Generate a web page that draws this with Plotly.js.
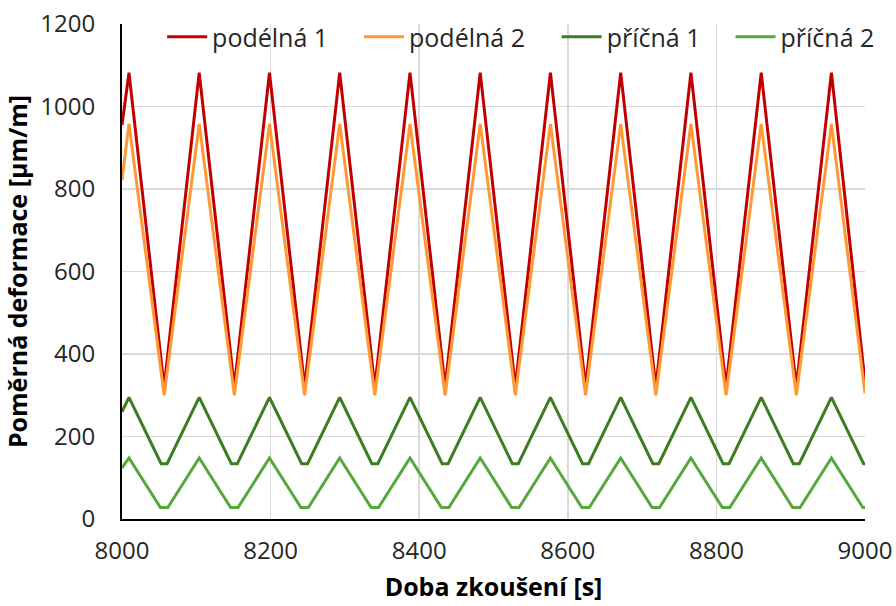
<!DOCTYPE html>
<html>
<head>
<meta charset="utf-8">
<script src="https://cdn.plot.ly/plotly-3.0.1.min.js"></script>
<style>html,body{margin:0;padding:0;background:#fff;}#chart{width:896px;height:606px;}</style>
</head>
<body>
<div id="chart"></div>
<script>
// Time axis points [s]
const tPod = [8000, 8009.4, 8056.7, 8103.9, 8151.2, 8198.5, 8245.8, 8293.0, 8340.3, 8387.6, 8434.9,
              8482.1, 8529.4, 8576.6, 8623.9, 8671.2, 8718.5, 8765.7, 8813.0, 8860.3, 8907.6, 8954.8, 9000];
// podélná 1 [µm/m]
const podelna1 = [955, 1082, 320, 1082, 320, 1082, 320, 1082, 320, 1082, 320,
                  1082, 320, 1082, 320, 1082, 320, 1082, 320, 1082, 320, 1082, 332];
// podélná 2 [µm/m]
const podelna2 = [822, 958, 300, 958, 300, 958, 300, 958, 300, 958, 300,
                  958, 300, 958, 300, 958, 300, 958, 300, 958, 300, 958, 305];

const tPr1 = [8000, 8009.4, 8052.7, 8060.7, 8103.9, 8147.2, 8155.2, 8198.5, 8241.8, 8249.8, 8293.0,
              8336.3, 8344.3, 8387.6, 8430.9, 8438.9, 8482.1, 8525.4, 8533.4, 8576.6, 8619.9, 8627.9,
              8671.2, 8714.5, 8722.5, 8765.7, 8809.0, 8817.0, 8860.3, 8903.6, 8911.6, 8954.8, 8998.1, 9000];
// příčná 1 [µm/m]
const pricna1 = [260, 295, 134, 134, 295, 134, 134, 295, 134, 134, 295,
                 134, 134, 295, 134, 134, 295, 134, 134, 295, 134, 134,
                 295, 134, 134, 295, 134, 134, 295, 134, 134, 295, 134, 134];

const tPr2 = [8000, 8009.4, 8051.7, 8061.7, 8103.9, 8146.2, 8156.2, 8198.5, 8240.8, 8250.8, 8293.0,
              8335.3, 8345.3, 8387.6, 8429.9, 8439.9, 8482.1, 8524.4, 8534.4, 8576.6, 8618.9, 8628.9,
              8671.2, 8713.5, 8723.5, 8765.7, 8808.0, 8818.0, 8860.3, 8902.6, 8912.6, 8954.8, 8997.1, 9000];
// příčná 2 [µm/m]
const pricna2 = [124, 148, 28, 28, 148, 28, 28, 148, 28, 28, 148,
                 28, 28, 148, 28, 28, 148, 28, 28, 148, 28, 28,
                 148, 28, 28, 148, 28, 28, 148, 28, 28, 148, 28, 28];

const seriesNames = ['podélná 1', 'podélná 2', 'příčná 1', 'příčná 2'];
const colors = ['#C00000', '#FF9933', '#3C7D22', '#56A83A'];
const legendIds = ['legend', 'legend2', 'legend3', 'legend4'];
const legendX = [0.054, 0.319, 0.585, 0.819];

const traces = [
  {x: tPod, y: podelna1},
  {x: tPod, y: podelna2},
  {x: tPr1, y: pricna1},
  {x: tPr2, y: pricna2}
].map((d, i) => ({
  x: d.x, y: d.y, type: 'scatter', mode: 'lines', name: seriesNames[i],
  legend: legendIds[i],
  line: {color: colors[i], width: 3}
}));

const FONT = 'Open Sans, sans-serif';
const layout = {
  width: 896, height: 606,
  margin: {l: 122, r: 31, t: 24, b: 87},
  paper_bgcolor: '#ffffff', plot_bgcolor: '#ffffff',
  font: {family: FONT, size: 25, color: '#404040'},
  showlegend: true,
  xaxis: {
    range: [8000, 9000], dtick: 200, tick0: 8000,
    showgrid: true, gridcolor: '#D9D9D9', gridwidth: 1.5,
    showline: true, linecolor: '#000000', linewidth: 2,
    ticks: '', ticklabelstandoff: 9, zeroline: false,
    tickfont: {size: 24, color: '#262626'},
    title: {text: 'Doba zkoušení [s]', font: {size: 25, color: '#000000', family: FONT, weight: 'bold'}, standoff: 14}
  },
  yaxis: {
    range: [0, 1200], dtick: 200,
    showgrid: true, gridcolor: '#D9D9D9', gridwidth: 1.5,
    showline: true, linecolor: '#000000', linewidth: 2,
    ticks: '', ticklabelstandoff: 20, zeroline: false,
    tickfont: {size: 24, color: '#262626'},
    title: {text: 'Poměrná deformace [µm/m]', font: {size: 25, color: '#000000', family: FONT, weight: 'bold'}, standoff: 9}
  }
};
legendIds.forEach((id, i) => {
  layout[id] = {
    orientation: 'h', x: legendX[i], xanchor: 'left', y: 1.02, yanchor: 'top',
    bgcolor: 'rgba(0,0,0,0)', font: {size: 25, color: '#262626', family: FONT},
    itemwidth: 40
  };
});

Plotly.newPlot('chart', traces, layout, {displayModeBar: false, staticPlot: true});
</script>
</body>
</html>
